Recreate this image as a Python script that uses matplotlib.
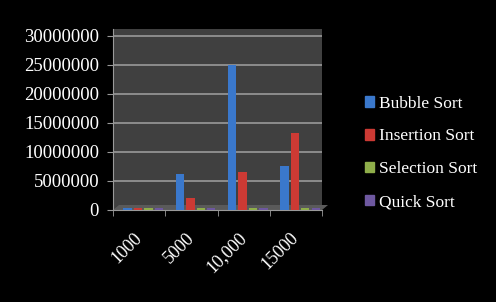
import matplotlib
matplotlib.use("Agg")
import matplotlib.pyplot as plt
import matplotlib.transforms as mtransforms
import numpy as np
from matplotlib.patches import Polygon

categories = ["1000", "5000", "10,000", "15000"]
series_names = ["Bubble Sort", "Insertion Sort", "Selection Sort", "Quick Sort"]
bubble = [400000, 6200000, 25000000, 7500000]
insertion = [400000, 2000000, 6500000, 13200000]
selection = [350000, 350000, 350000, 400000]
quick = [350000, 350000, 350000, 350000]
yticks = [0, 5000000, 10000000, 15000000, 20000000, 25000000, 30000000]

colors = ["#3a78cc", "#cc3a34", "#8fae4a", "#6e58a0"]
series = [bubble, insertion, selection, quick]

fig = plt.figure(figsize=(4.96, 3.02), dpi=100, facecolor="black")
W, H = 496, 302
left, right, bottom, top = 113, 322, 210, 29
ax = fig.add_axes([left / W, 1 - bottom / H, (right - left) / W, (bottom - top) / H])
ax.set_facecolor("#404040")

x = np.arange(len(categories))
width = 0.16
step = 0.2
for i, (vals, c) in enumerate(zip(series, colors)):
    ax.bar(x + 0.08 + (i - 1.5) * step, vals, width=width, color=c,
           edgecolor="none", zorder=3)

ax.set_xlim(-0.5, len(categories) - 0.5)
ax.set_ylim(0, 31200000)
ax.set_yticks(yticks)
ax.set_yticklabels([str(v) for v in yticks], family="Liberation Serif",
                   fontsize=13.5, color="white")
ax.yaxis.grid(True, color="#9a9a9a", linewidth=1.2, zorder=1)
ax.set_axisbelow(True)

ax.set_xticks(x)
ax.set_xticklabels(categories, family="Liberation Serif", fontsize=13,
                   color="white", rotation=45, ha="right", va="top",
                   rotation_mode="anchor")
ax.tick_params(axis="x", length=0, pad=14)
shift = mtransforms.ScaledTranslation(-6 / 100, 0, fig.dpi_scale_trans)
for lbl in ax.get_xticklabels():
    lbl.set_transform(lbl.get_transform() + shift)
ax.set_xticks(np.arange(-0.5, len(categories)), minor=True)
ax.tick_params(axis="x", which="minor", length=4, color="#9a9a9a", direction="out")
ax.tick_params(axis="y", length=4, color="#9a9a9a", pad=6)

for s in ["top", "right"]:
    ax.spines[s].set_visible(False)
ax.spines["left"].set_color("#9a9a9a")
ax.spines["bottom"].set_color("#9a9a9a")

# floor strip for 3D look (under the bars)
fh = 5 / (bottom - top)
fw = 6 / (right - left)
floor = Polygon([[0, 0], [1, 0], [1 + fw, fh], [fw, fh]], closed=True,
                transform=ax.transAxes, facecolor="#5a5a5a", edgecolor="none",
                zorder=2, clip_on=False)
ax.add_patch(floor)

handles = [plt.Rectangle((0, 0), 1, 1, color=c) for c in colors]
leg = fig.legend(handles, series_names, loc="upper left",
                 bbox_to_anchor=(349 / W, 1 - 80 / H), frameon=False,
                 prop={"family": "Liberation Serif", "size": 12.5},
                 labelcolor="white", handlelength=0.55, handleheight=0.55,
                 handletextpad=0.3, labelspacing=0.97)

fig.savefig("out.png", dpi=100, facecolor="black")
